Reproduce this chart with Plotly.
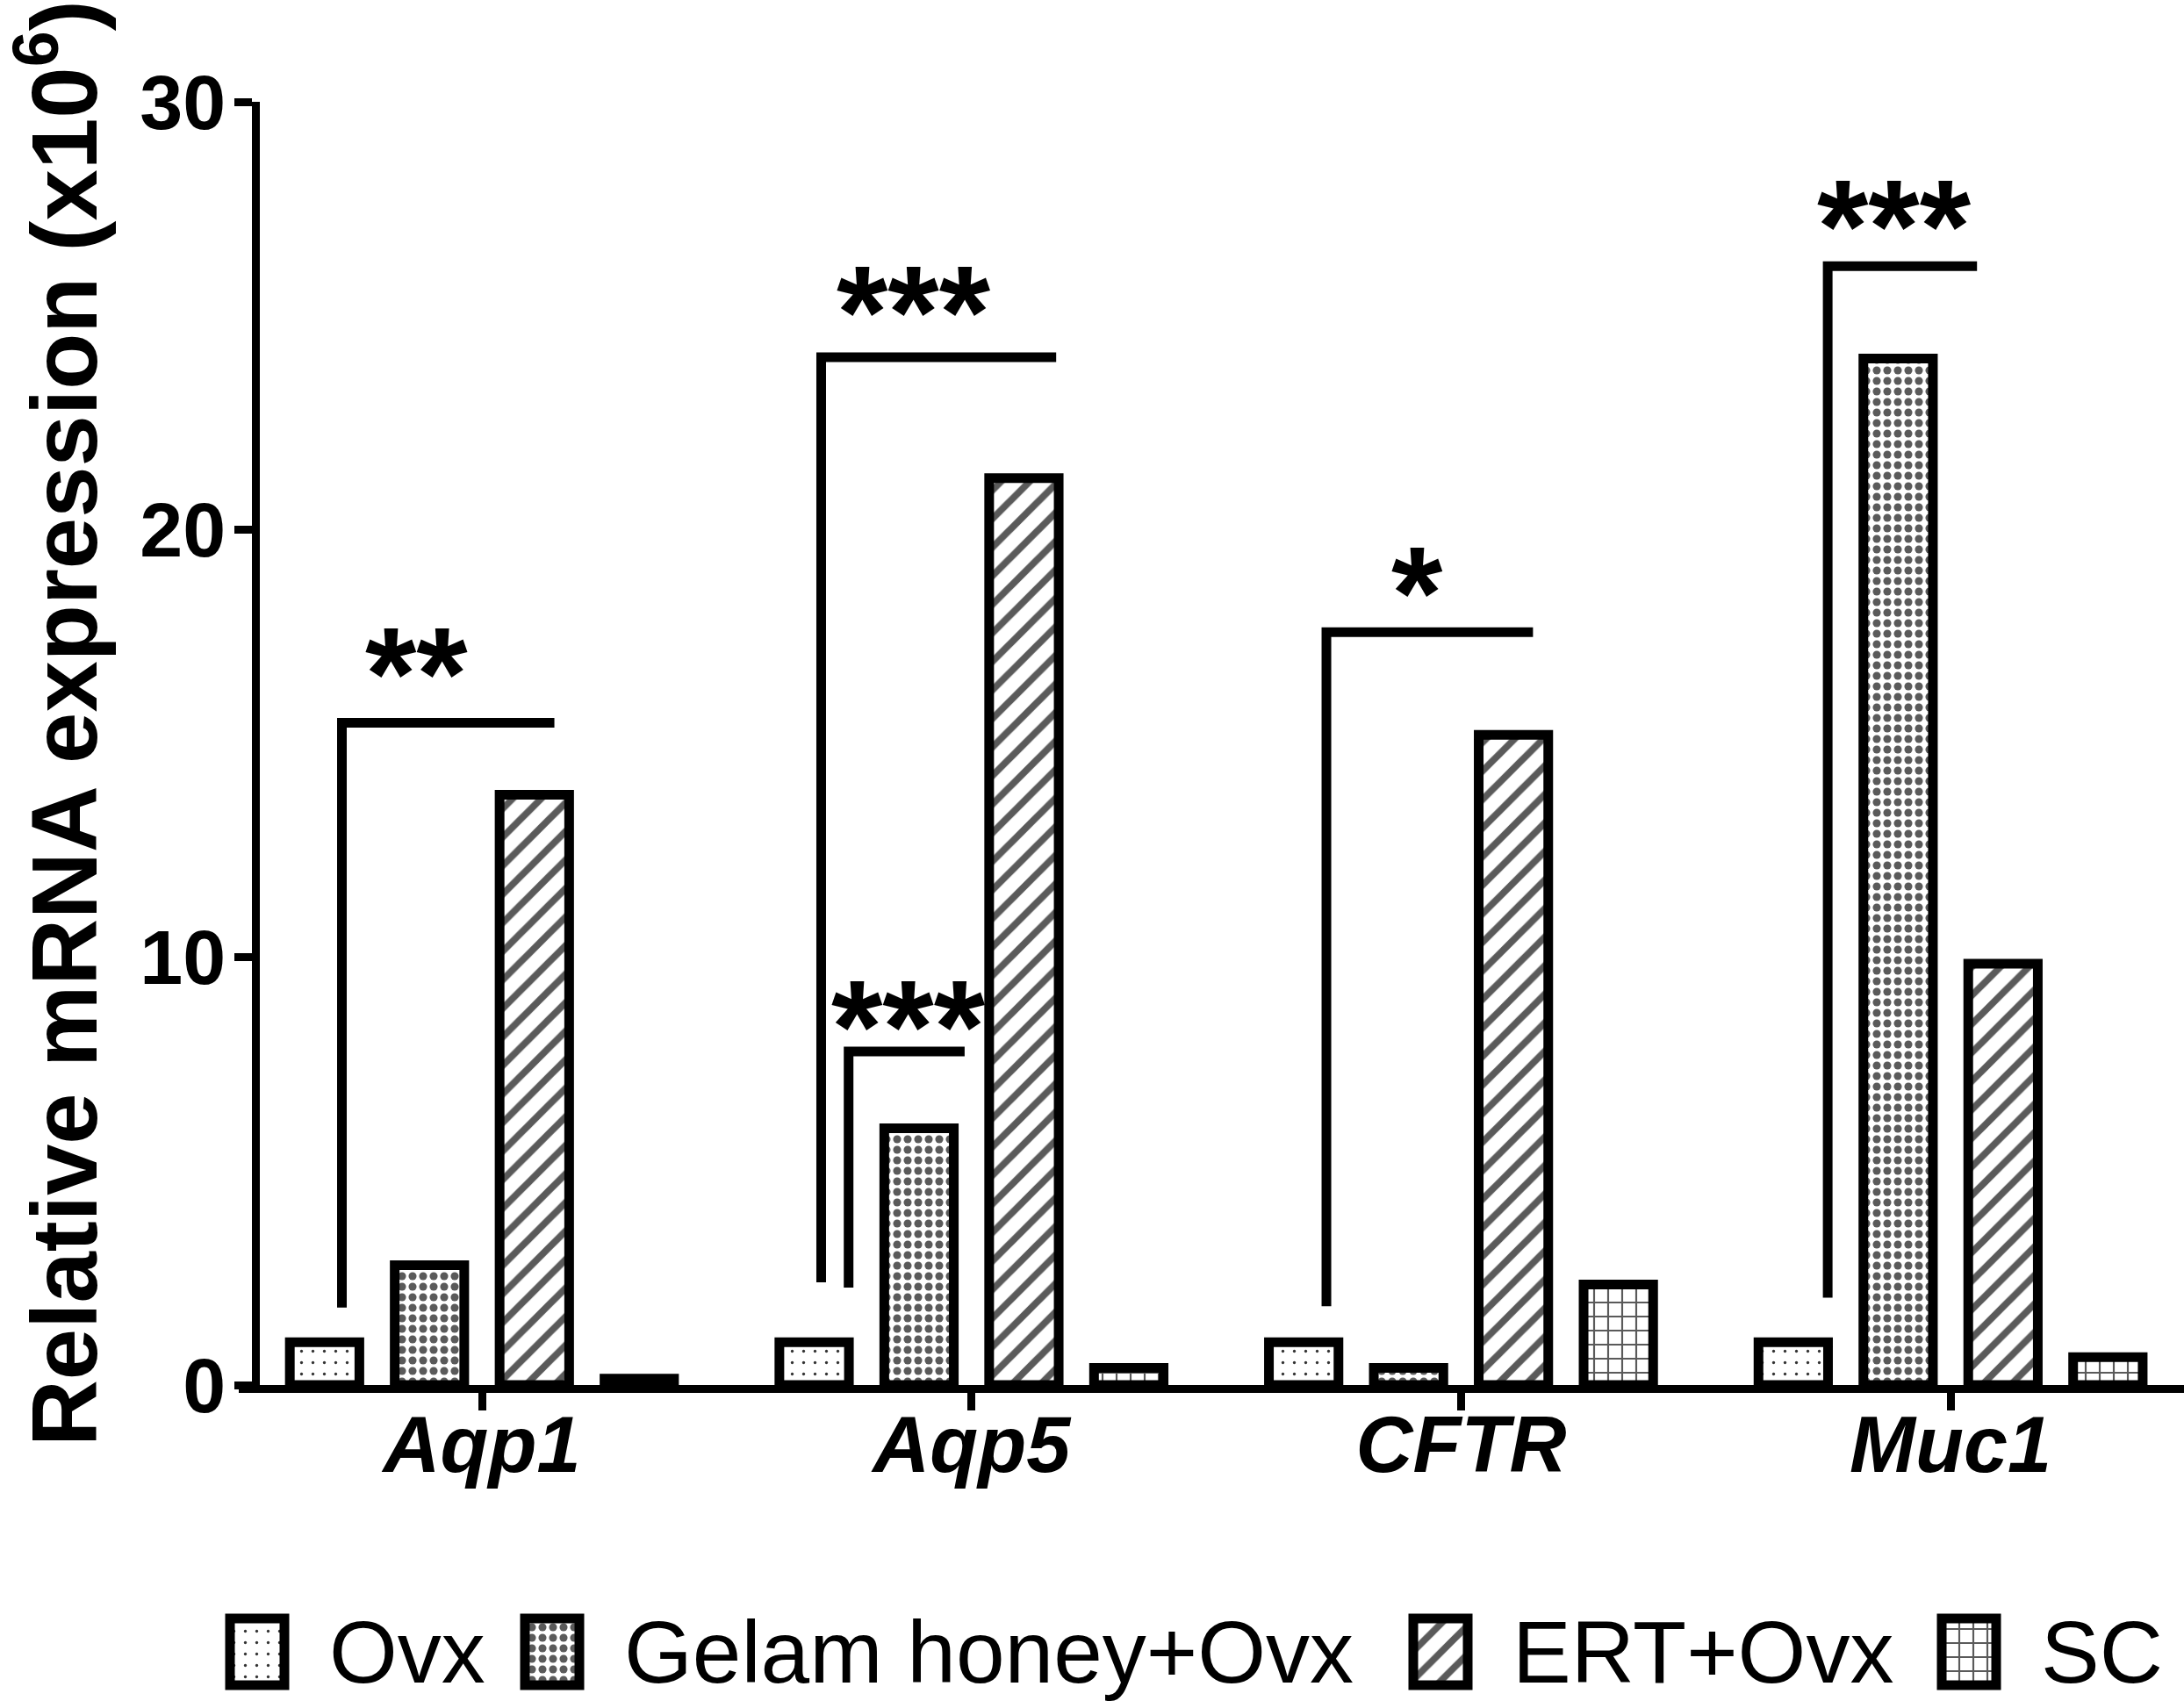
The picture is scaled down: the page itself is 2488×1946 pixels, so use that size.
import plotly.graph_objects as go

# Relative mRNA expression (x10^6)
genes = ["Aqp1", "Aqp5", "CFTR", "Muc1"]
groups = ["Ovx", "Gelam honey+Ovx", "ERT+Ovx", "SC"]

ovx = [1.0, 1.0, 1.0, 1.0]
gelam_honey = [2.8, 6.0, 0.4, 24.0]
ert = [13.8, 21.2, 15.2, 9.85]
sc = [0.15, 0.4, 2.35, 0.65]

# significance brackets (gene index, offsets from gene centre, foot and top heights)
sig_gene = [0, 1, 1, 2, 3]
sig_left = [-0.286, -0.307, -0.251, -0.275, -0.251]
sig_right = [0.148, 0.173, -0.014, 0.147, 0.054]
sig_foot = [1.81, 2.40, 2.28, 1.84, 2.04]
sig_top = [15.48, 24.03, 7.80, 17.60, 26.16]
sig_text = ["**", "***", "***", "*", "***"]
sig_text_x = [-0.134, -0.118, -0.128, -0.089, -0.115]
sig_text_y = [17.07, 25.53, 8.82, 18.96, 27.54]

W, H = 2488, 1946
FONT = "Liberation Sans, Arial, sans-serif"
GREY = "#5a5a5a"

patterns = [
    dict(shape=".", size=13, solidity=0.05, fgcolor="#333333", bgcolor="white", fillmode="replace"),
    dict(shape=".", size=12, solidity=0.45, fgcolor=GREY, bgcolor="white", fillmode="replace"),
    dict(shape="/", size=23, solidity=0.34, fgcolor=GREY, bgcolor="white", fillmode="replace"),
    dict(shape="+", size=16, solidity=0.25, fgcolor=GREY, bgcolor="white", fillmode="replace"),
]
series = [ovx, gelam_honey, ert, sc]
x_idx = list(range(len(genes)))

fig = go.Figure()

for name, vals, pat in zip(groups, series, patterns):
    fig.add_trace(go.Bar(
        x=x_idx, y=vals, name=name,
        marker=dict(color="white", line=dict(color="black", width=11), pattern=pat),
        showlegend=False,
    ))

# brackets
for g, l, r, f, t in zip(sig_gene, sig_left, sig_right, sig_foot, sig_top):
    fig.add_trace(go.Scatter(
        x=[g + l, g + l, g + r], y=[f, t, t], mode="lines",
        line=dict(color="black", width=11), showlegend=False,
        hoverinfo="skip", cliponaxis=False,
    ))

for g, txt, tx, ty in zip(sig_gene, sig_text, sig_text_x, sig_text_y):
    fig.add_annotation(
        x=g + tx, y=ty, xref="x", yref="y", text=txt, showarrow=False,
        font=dict(family=FONT, size=150, color="black", weight="bold"),
        xanchor="center", yanchor="middle", yshift=-22,
    )

# legend drawn as small bars on a helper axis (pixel units)
legend_box_x = [293, 629, 1641, 2243]
for name, pat, bx in zip(groups, patterns, legend_box_x):
    fig.add_trace(go.Bar(
        x=[bx], y=[76], base=[26], width=[62], xaxis="x2", yaxis="y2",
        marker=dict(color="white", line=dict(color="black", width=11), pattern=pat),
        showlegend=False, hoverinfo="skip",
    ))
    fig.add_annotation(
        x=bx + 80, y=64, xref="x2", yref="y2", text=name, showarrow=False,
        font=dict(family=FONT, size=100, color="black"),
        xanchor="left", yanchor="middle",
    )

# y axis title
fig.add_annotation(
    x=66 / W, y=1 - 824 / H, xref="paper", yref="paper",
    text="Relative mRNA expression (x10<sup>6</sup>)", textangle=-90,
    showarrow=False, font=dict(family=FONT, size=105, color="black", weight="bold"),
    xanchor="center", yanchor="middle",
)

fig.update_layout(
    width=W, height=H,
    margin=dict(l=0, r=0, t=0, b=0, autoexpand=False),
    paper_bgcolor="white", plot_bgcolor="white",
    barmode="group", bargap=0.143, bargroupgap=0.337,
    showlegend=False,
    font=dict(family=FONT, color="black"),
    xaxis=dict(
        domain=[272 / W, 1.0], range=[-0.4967, 3.4768],
        tickvals=x_idx, ticktext=genes, automargin=False,
        showline=True, linecolor="black", linewidth=9,
        ticks="outside", ticklen=20, tickwidth=9, tickcolor="black",
        ticklabelstandoff=-38,
        tickfont=dict(family=FONT, size=90, color="black", weight="bold", style="italic"),
        showgrid=False, zeroline=False,
    ),
    yaxis=dict(
        domain=[1 - 1578 / H, 1 - 116 / H], range=[0, 30],
        anchor="free", position=290.7 / W, automargin=False,
        tickvals=[0, 10, 20, 30],
        showline=True, linecolor="black", linewidth=9,
        ticks="outside", ticklen=20, tickwidth=9, tickcolor="black",
        ticklabelstandoff=-8,
        tickfont=dict(family=FONT, size=88, color="black", weight="bold"),
        showgrid=False, zeroline=False,
    ),
    xaxis2=dict(domain=[0, 1], range=[0, W], visible=False, anchor="y2", automargin=False),
    yaxis2=dict(domain=[0, 146 / H], range=[0, 146], visible=False, anchor="x2", automargin=False),
)

# drop the browser's default body margin so the figure sits at the page origin
fig.write_html("out.html", config={"displayModeBar": False},
               post_script="document.body.style.margin='0';")
